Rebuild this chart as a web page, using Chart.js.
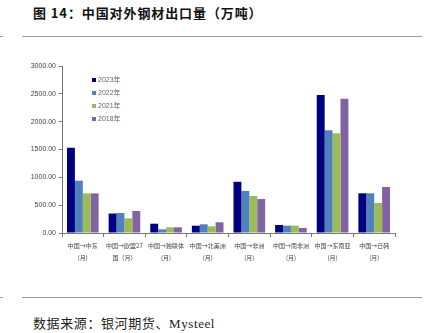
<!DOCTYPE html>
<html>
<head>
<meta charset="utf-8">
<script src="https://cdn.jsdelivr.net/npm/chart.js@4"></script>
<style>
  body { margin: 0; width: 432px; height: 333px; background: #fff; position: relative; overflow: hidden; font-family: "Noto Sans CJK SC", sans-serif; }
  .title { position: absolute; left: 33px; top: 3px; font-size: 13px; font-weight: bold; letter-spacing: 0.9px; color: #111; }
  .rule { position: absolute; left: 22px; width: 400px; height: 1px; background: #9a9a9a; }
  .dash { position: absolute; left: 0; width: 3px; height: 1px; background: #9a9a9a; }
  .source { position: absolute; left: 33px; top: 313px; font-size: 13px; letter-spacing: 0.6px; color: #222; font-family: "Liberation Serif", "Noto Sans CJK SC", serif; }
  #wrap { position: absolute; left: 20px; top: 55px; width: 380px; height: 220px; }
</style>
</head>
<body>
<div class="title">图 14：中国对外钢材出口量（万吨）</div>
<div class="dash" style="top:36px"></div>
<div class="rule" style="top:36px"></div>
<div id="wrap"><canvas id="chart"></canvas></div>
<div class="dash" style="top:297px"></div>
<div class="rule" style="top:297px"></div>
<div class="source">数据来源：银河期货、Mysteel</div>
<script>
const categories = [
  ['中国→中东', '(月)'],
  ['中国→欧盟27', '国（月）'],
  ['中国→独联体', '(月)'],
  ['中国→北美洲', '(月)'],
  ['中国→非洲', '(月)'],
  ['中国→南非洲', '(月)'],
  ['中国→东南亚', '(月)'],
  ['中国→日韩', '(月)']
];
const seriesNames = ['2023年', '2022年', '2021年', '2018年'];
const values2023 = [1530, 350, 167, 131, 920, 144, 2480, 713];
const values2022 = [940, 360, 66, 156, 754, 132, 1845, 713];
const values2021 = [712, 264, 102, 120, 665, 132, 1790, 540];
const values2018 = [712, 395, 102, 192, 610, 90, 2412, 826];
const colors = ['#000080', '#4f81bd', '#9bbb59', '#8064a2'];

const insideLegend = {
  id: 'insideLegend',
  afterDraw(chart) {
    const ctx = chart.ctx;
    ctx.save();
    ctx.font = '7px "Liberation Sans", "Noto Sans CJK SC", sans-serif';
    ctx.textBaseline = 'middle';
    chart.data.datasets.forEach((ds, i) => {
      const y = 25 + i * 13;
      ctx.fillStyle = ds.backgroundColor;
      ctx.fillRect(72, y - 2, 4, 4);
      ctx.fillStyle = '#666';
      ctx.fillText(ds.label, 78, y);
    });
    ctx.restore();
  }
};

const allValues = [values2023, values2022, values2021, values2018];

new Chart(document.getElementById('chart'), {
  type: 'bar',
  data: {
    labels: categories,
    datasets: allValues.map((vals, i) => ({
      label: seriesNames[i],
      data: vals,
      backgroundColor: colors[i],
      borderWidth: 0
    }))
  },
  options: {
    responsive: true,
    maintainAspectRatio: false,
    animation: false,
    layout: { padding: { top: 11, right: 5, left: 0, bottom: 0 } },
    plugins: { legend: { display: false }, tooltip: { enabled: false } },
    datasets: { bar: { categoryPercentage: 0.76, barPercentage: 1.0 } },
    scales: {
      x: {
        afterFit(scale) { scale.height = 42; },
        border: { color: '#777', width: 1 },
        grid: { display: true, drawOnChartArea: false, offset: true, tickLength: 4, color: '#777' },
        ticks: {
          font: { size: 6, family: '"Noto Sans CJK SC", sans-serif', lineHeight: 2.1 },
          color: '#444',
          maxRotation: 0,
          autoSkip: false,
          padding: 2
        }
      },
      y: {
        min: 0,
        max: 3000,
        afterFit(scale) { scale.width = 42; },
        border: { color: '#777', width: 1 },
        grid: { display: true, drawOnChartArea: false, tickLength: 3, color: '#777' },
        ticks: {
          stepSize: 500,
          font: { size: 7, family: '"Liberation Sans", sans-serif' },
          color: '#444',
          padding: 3,
          callback: v => v.toFixed(2)
        }
      }
    }
  },
  plugins: [insideLegend]
});
</script>
</body>
</html>
